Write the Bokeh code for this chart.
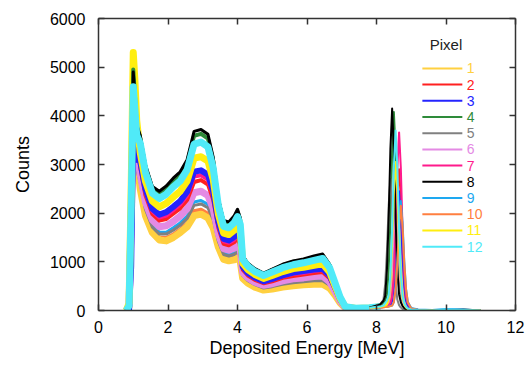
from bokeh.plotting import figure
from bokeh.models import Range1d, LinearAxis, FixedTicker
from bokeh.embed import file_html
from bokeh.resources import INLINE
from bokeh.core.properties import value

# Deposited energy grid [MeV]
energy = [0.80, 0.88, 0.94, 1.00, 1.05, 1.10,
          1.20, 1.35, 1.55, 1.75, 1.95, 2.15, 2.35, 2.55, 2.75, 2.95,
          3.15, 3.30, 3.45, 3.60, 3.75, 3.90, 4.00, 4.08, 4.15, 4.30,
          4.50, 4.75, 5.00, 5.30, 5.60, 5.90, 6.20, 6.45, 6.65, 6.80,
          6.95, 7.10, 7.40, 7.80,
          8.10, 8.20, 8.25, 8.30, 8.35, 8.40, 8.45, 8.50, 8.55, 8.60, 8.65,
          8.70, 8.75, 8.80, 8.85, 8.90, 9.00, 9.20, 9.60, 10.0, 10.5, 11.0]

# Counts per pixel
pixel_1 = [0, 80, 1800, 4000, 3600, 3100,
           2500, 1950, 1600, 1450, 1430, 1500, 1600, 1720, 1950, 1980,
           1900, 1700, 1300, 1050, 1020, 1040, 1080, 1000, 660, 560,
           480, 420, 440, 480, 510, 530, 540, 540, 460, 320,
           160, 50, 30, 40,
           60, 70, 80, 90, 100, 200, 500, 1130, 2000, 2500, 2000,
           1130, 500, 200, 100, 50, 20, 10, 0, 0, 0, 0]
pixel_2 = [0, 60, 2100, 4700, 4200, 3600,
           2940, 2370, 1980, 1850, 1880, 1990, 2100, 2270, 2640, 2680,
           2590, 2280, 1700, 1370, 1340, 1400, 1480, 1360, 840, 720,
           630, 560, 600, 670, 710, 740, 770, 790, 660, 440,
           220, 60, 35, 45,
           70, 80, 80, 90, 100, 120, 230, 580, 1300, 2320, 2900,
           2320, 1300, 580, 230, 120, 30, 10, 0, 0, 0, 0]
pixel_3 = [0, 20, 900, 3800, 3500, 3100,
           3070, 2500, 2090, 1970, 2020, 2130, 2250, 2440, 2850, 2880,
           2790, 2450, 1820, 1470, 1440, 1510, 1600, 1470, 900, 770,
           680, 600, 650, 720, 780, 810, 840, 860, 720, 480,
           230, 70, 40, 50,
           60, 70, 70, 80, 90, 100, 200, 490, 1100, 1960, 2450,
           1960, 1100, 490, 200, 100, 30, 10, 0, 0, 0, 0]
pixel_4 = [0, 120, 2400, 4950, 4400, 3800,
           3550, 2950, 2500, 2400, 2500, 2660, 2790, 3030, 3590, 3630,
           3530, 3080, 2250, 1810, 1780, 1900, 2030, 1860, 1100, 950,
           840, 750, 830, 930, 1000, 1030, 1090, 1130, 930, 600,
           290, 90, 50, 60,
           100, 160, 200, 330, 820, 1840, 3260, 4080, 3260, 1840, 820,
           330, 160, 80, 40, 20, 10, 0, 0, 0, 0, 0]
pixel_5 = [0, 300, 2500, 3700, 3300, 2900,
           2630, 2080, 1710, 1570, 1570, 1650, 1750, 1890, 2160, 2190,
           2110, 1870, 1420, 1150, 1120, 1150, 1200, 1110, 720, 610,
           530, 460, 490, 540, 570, 590, 610, 610, 520, 360,
           180, 55, 30, 40,
           120, 220, 540, 1220, 2160, 2700, 2160, 1220, 540, 220, 110,
           60, 30, 20, 10, 10, 0, 0, 0, 0, 0, 0]
pixel_6 = [0, 100, 1900, 4200, 3800, 3300,
           2800, 2230, 1860, 1720, 1740, 1830, 1940, 2090, 2420, 2450,
           2360, 2090, 1570, 1270, 1240, 1280, 1350, 1240, 780, 670,
           580, 520, 550, 610, 650, 670, 700, 710, 590, 400,
           200, 60, 35, 40,
           60, 70, 80, 90, 170, 420, 950, 1680, 2100, 1680, 950,
           420, 170, 80, 40, 20, 10, 0, 0, 0, 0, 0]
pixel_7 = [0, 80, 2000, 4300, 3900, 3400,
           3010, 2430, 2040, 1910, 1950, 2060, 2180, 2360, 2750, 2780,
           2690, 2370, 1760, 1420, 1390, 1450, 1540, 1410, 870, 750,
           660, 580, 630, 700, 750, 770, 810, 830, 690, 460,
           220, 70, 40, 50,
           70, 80, 90, 100, 110, 150, 290, 730, 1650, 2930, 3660,
           2930, 1650, 730, 290, 150, 40, 10, 0, 0, 0, 0]
pixel_8 = [0, 200, 2600, 4900, 4400, 3800,
           3600, 3000, 2550, 2450, 2560, 2720, 2850, 3100, 3680, 3720,
           3620, 3150, 2300, 1850, 1820, 1940, 2080, 1900, 1120, 970,
           860, 770, 850, 950, 1020, 1060, 1120, 1160, 950, 620,
           300, 90, 50, 60,
           120, 200, 300, 830, 1870, 3320, 4150, 3320, 1870, 830, 330,
           170, 90, 50, 30, 20, 10, 0, 0, 10, 20, 0]
pixel_9 = [0, 60, 1700, 3900, 3500, 3000,
           2680, 2120, 1750, 1610, 1610, 1700, 1800, 1940, 2230, 2260,
           2180, 1930, 1460, 1180, 1150, 1180, 1240, 1140, 730, 630,
           540, 480, 510, 560, 590, 620, 630, 640, 540, 370,
           180, 60, 30, 40,
           60, 70, 70, 70, 80, 90, 100, 180, 450, 1010, 1800,
           2250, 1800, 1010, 450, 180, 50, 20, 10, 30, 20, 0]
pixel_10 = [0, 80, 1800, 4100, 3700, 3200,
            2560, 2000, 1650, 1500, 1490, 1560, 1660, 1790, 2040, 2070,
            1990, 1770, 1350, 1090, 1060, 1090, 1130, 1050, 680, 580,
            500, 440, 460, 500, 540, 560, 570, 570, 490, 340,
            170, 50, 30, 40,
            60, 60, 70, 70, 80, 90, 100, 170, 430, 970, 1720,
            2150, 1720, 970, 430, 170, 40, 10, 0, 0, 0, 0]
pixel_11 = [0, 150, 2500, 5300, 4700, 3900,
            3250, 2660, 2250, 2130, 2200, 2330, 2450, 2660, 3130, 3160,
            3070, 2690, 1980, 1590, 1560, 1650, 1760, 1610, 970, 840,
            740, 660, 720, 800, 860, 890, 930, 960, 790, 520,
            250, 80, 40, 50,
            70, 90, 100, 120, 240, 610, 1370, 2440, 3050, 2440, 1370,
            610, 240, 120, 60, 30, 10, 0, 0, 0, 0, 0]
pixel_12 = [0, 100, 2200, 4600, 4100, 3600,
            3440, 2840, 2410, 2300, 2390, 2540, 2660, 2890, 3420, 3460,
            3360, 2930, 2150, 1730, 1700, 1800, 1930, 1770, 1050, 910,
            800, 720, 790, 880, 940, 980, 1030, 1070, 880, 580,
            280, 80, 45, 55,
            80, 100, 150, 200, 300, 740, 1670, 2960, 3700, 2960, 1670,
            740, 300, 150, 80, 40, 20, 10, 0, 20, 10, 0]

pixel_labels = ["1", "2", "3", "4", "5", "6", "7", "8", "9", "10", "11", "12"]
series = [pixel_1, pixel_2, pixel_3, pixel_4, pixel_5, pixel_6,
          pixel_7, pixel_8, pixel_9, pixel_10, pixel_11, pixel_12]
x_ticks = [0, 2, 4, 6, 8, 10, 12]
y_ticks = [0, 1000, 2000, 3000, 4000, 5000, 6000]

# styles
colors = ["#FFD040", "#FF2020", "#2424FF", "#2E8B3A", "#808080", "#E48AE4",
          "#FF1A8C", "#000000", "#1EA8F0", "#FF7F40", "#FFEE10", "#50EAF8"]
band_widths = [7, 4, 6, 4, 3, 7, 4, 3, 3, 4, 7, 7]
draw_order = [9, 0, 8, 4, 5, 1, 6, 2, 10, 3, 7, 11]
FONT = "Liberation Sans"
AX = "#333333"

p = figure(width=528, height=367, output_backend="svg", toolbar_location=None,
           x_range=Range1d(0, 12), y_range=Range1d(0, 6000),
           min_border_left=98, min_border_right=13, min_border_top=18,
           min_border_bottom=57)
p.xgrid.visible = False
p.ygrid.visible = False
p.outline_line_color = None
p.background_fill_color = "white"
p.border_fill_color = "white"

n_cont = energy.index(7.80)
for k in draw_order:
    p.line(energy[:n_cont + 2], series[k][:n_cont + 2], line_color=colors[k],
           line_width=band_widths[k], line_join="round")
for ys, col in zip(series, colors):
    p.line(energy[n_cont:], ys[n_cont:], line_color=col, line_width=2,
           line_join="round")


def style_axis(ax, labels=True):
    ax.axis_line_color = AX
    ax.axis_line_width = 1.5
    ax.major_tick_in = 6
    ax.major_tick_out = 0
    ax.major_tick_line_color = AX
    ax.major_tick_line_width = 1.5
    ax.minor_tick_line_color = None
    ax.major_label_text_font = FONT
    ax.major_label_text_color = "black"
    if labels:
        ax.major_label_text_font_size = "16px"
    else:
        ax.major_label_text_font_size = "1px"
        ax.major_label_text_alpha = 0
        ax.major_label_standoff = 0


p.xaxis.ticker = FixedTicker(ticks=x_ticks)
p.yaxis.ticker = FixedTicker(ticks=y_ticks)
style_axis(p.xaxis[0])
style_axis(p.yaxis[0])
p.xaxis.major_label_standoff = 10
p.yaxis.major_label_standoff = 13
p.xaxis.axis_label = "Deposited Energy [MeV]"
p.yaxis.axis_label = "Counts"
for ax in (p.xaxis[0], p.yaxis[0]):
    ax.axis_label_text_font = FONT
    ax.axis_label_text_font_style = "normal"
    ax.axis_label_text_font_size = "18px"
    ax.axis_label_text_color = "black"
p.xaxis.axis_label_standoff = 2
p.yaxis.axis_label_standoff = 14

top = LinearAxis(ticker=FixedTicker(ticks=x_ticks))
right = LinearAxis(ticker=FixedTicker(ticks=y_ticks))
style_axis(top, labels=False)
style_axis(right, labels=False)
p.add_layout(top, "above")
p.add_layout(right, "right")

# legend (layout constants in data units)
LEG_X0, LEG_X1, LEG_TX = 9.32, 10.47, 10.60
LEG_Y0, LEG_DY = 4975, 333
leg_y = [LEG_Y0 - i * LEG_DY for i in range(len(pixel_labels))]
p.segment(x0=[LEG_X0] * 12, x1=[LEG_X1] * 12, y0=leg_y, y1=leg_y,
          line_color=colors, line_width=2)
p.text(x=[LEG_TX] * 12, y=leg_y, text=pixel_labels, text_color=colors,
       text_font=value(FONT), text_font_size=value("14px"),
       text_baseline="middle", text_align="left")
p.text(x=[10.0], y=[5470], text=["Pixel"], text_color="#222222",
       text_font=value(FONT), text_font_size=value("15px"),
       text_baseline="middle", text_align="center")

open("out.html", "w").write(file_html(p, INLINE))
